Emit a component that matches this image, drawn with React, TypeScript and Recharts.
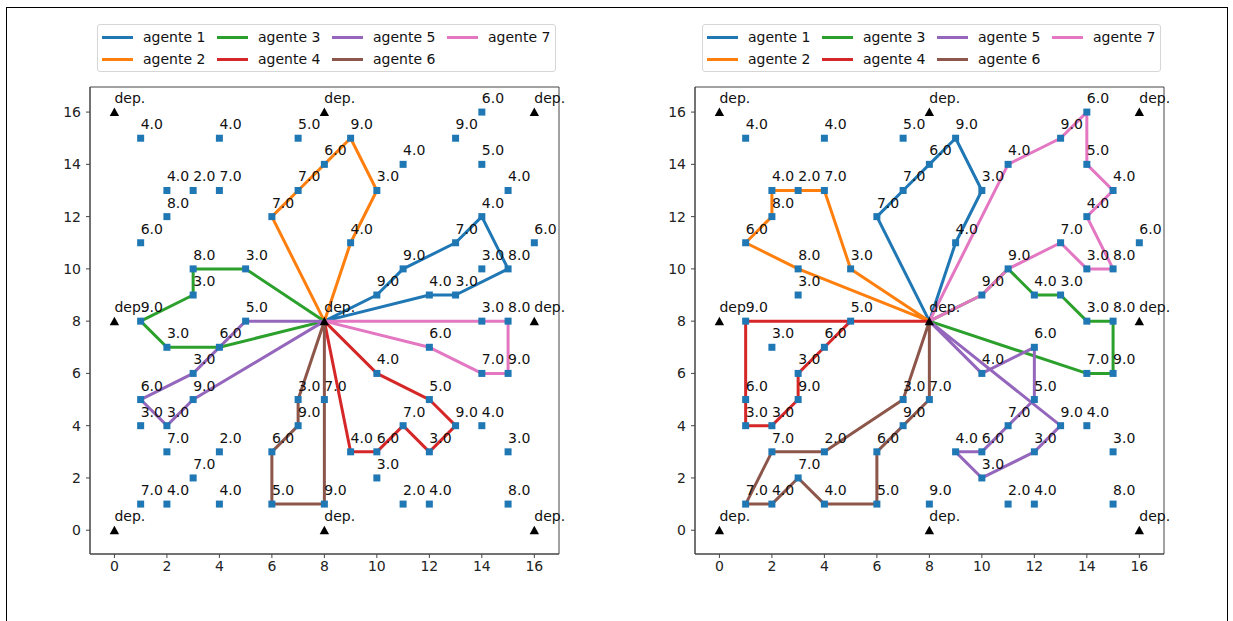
import React from "react";
import { ScatterChart, Scatter, XAxis, YAxis, ReferenceArea } from "recharts";

// customer nodes (x, y) and their demand
const custX = [1, 4, 7, 2, 3, 4, 2, 1, 3, 5, 3, 1, 5, 6, 7, 8, 9, 10, 11, 13, 14, 14, 15, 14, 9, 13, 16, 11, 14, 15, 10, 12, 13, 14, 15, 2, 4, 3, 1, 3, 1, 2, 2, 4, 3, 1, 2, 4, 6, 6, 7, 8, 7, 8, 12, 14, 15, 10, 12, 11, 13, 14, 9, 10, 12, 15, 10, 11, 12, 15];
const custY = [15, 15, 15, 13, 13, 13, 12, 11, 10, 10, 9, 8, 8, 12, 13, 14, 15, 13, 14, 15, 16, 14, 13, 12, 11, 11, 11, 10, 10, 10, 9, 9, 9, 8, 8, 7, 7, 6, 5, 5, 4, 4, 3, 3, 2, 1, 1, 1, 3, 1, 5, 5, 4, 1, 7, 6, 6, 6, 5, 4, 4, 4, 3, 3, 3, 3, 2, 1, 1, 1];
const demand = [4, 4, 5, 4, 2, 7, 8, 6, 8, 3, 3, 9, 5, 7, 7, 6, 9, 3, 4, 9, 6, 5, 4, 4, 4, 7, 6, 9, 3, 8, 9, 4, 3, 3, 8, 3, 6, 3, 6, 9, 3, 3, 7, 2, 7, 7, 4, 4, 6, 5, 3, 7, 9, 9, 6, 7, 9, 4, 5, 7, 9, 4, 4, 6, 3, 3, 3, 2, 4, 8];

const depotX = [0, 0, 0, 8, 8, 8, 16, 16, 16];
const depotY = [0, 8, 16, 0, 8, 16, 0, 8, 16];

const agentNames = ["agente 1", "agente 2", "agente 3", "agente 4", "agente 5", "agente 6", "agente 7"];
const agentColors = ["#1f77b4", "#ff7f0e", "#2ca02c", "#d62728", "#9467bd", "#8c564b", "#e377c2"];

const axisTicks = [0, 2, 4, 6, 8, 10, 12, 14, 16];

// routes of the left solution
const routesLeft = [
  [[8, 8], [10, 9], [11, 10], [13, 11], [14, 12], [15, 10], [13, 9], [12, 9], [8, 8]],
  [[8, 8], [6, 12], [7, 13], [8, 14], [9, 15], [10, 13], [9, 11], [8, 8]],
  [[8, 8], [5, 10], [3, 10], [3, 9], [1, 8], [2, 7], [4, 7], [8, 8]],
  [[8, 8], [10, 6], [12, 5], [13, 4], [12, 3], [11, 4], [10, 3], [9, 3], [8, 8]],
  [[8, 8], [5, 8], [3, 6], [1, 5], [2, 4], [3, 5], [8, 8]],
  [[8, 8], [7, 5], [7, 4], [6, 3], [6, 1], [8, 1], [8, 8]],
  [[8, 8], [14, 8], [15, 8], [15, 6], [14, 6], [12, 7], [8, 8]],
];

// routes of the right solution
const routesRight = [
  [[8, 8], [6, 12], [7, 13], [8, 14], [9, 15], [10, 13], [9, 11], [8, 8]],
  [[8, 8], [5, 10], [4, 13], [3, 13], [2, 13], [2, 12], [1, 11], [3, 10], [8, 8]],
  [[8, 8], [10, 9], [11, 10], [12, 9], [13, 9], [14, 8], [15, 8], [15, 6], [14, 6], [8, 8]],
  [[8, 8], [1, 8], [1, 5], [1, 4], [2, 4], [3, 5], [3, 6], [4, 7], [5, 8], [8, 8]],
  [[8, 8], [10, 6], [12, 7], [12, 5], [11, 4], [10, 3], [9, 3], [10, 2], [12, 3], [13, 4], [8, 8]],
  [[8, 8], [7, 5], [4, 3], [2, 3], [1, 1], [2, 1], [3, 2], [4, 1], [6, 1], [6, 3], [7, 4], [8, 5], [8, 8]],
  [[8, 8], [10, 9], [11, 10], [13, 11], [14, 10], [15, 10], [14, 12], [15, 13], [14, 14], [14, 16], [13, 15], [11, 14], [8, 8]],
];

const X_DOMAIN: [number, number] = [-0.93, 16.94];
const Y_DOMAIN: [number, number] = [-0.91, 16.96];
const FONT = "DejaVu Sans";

const customers = custX.map((x, i) => ({ x, y: custY[i], label: demand[i].toFixed(1) }));
const depots = depotX.map((x, i) => ({ x, y: depotY[i], label: "dep." }));

const NoDot = () => <g />;
const Square = (p: any) => (
  <rect x={p.cx - 3.5} y={p.cy - 3.5} width={7} height={7} fill="#1f77b4" />
);
const Triangle = (p: any) => (
  <path d={`M${p.cx},${p.cy - 4.5}L${p.cx + 4.7},${p.cy + 4}L${p.cx - 4.7},${p.cy + 4}Z`} fill="#000" />
);
const TextMark = (p: any) => (
  <text x={p.cx} y={p.cy - 9} fontSize={14} fontFamily={FONT} fill="#111">
    {p.payload.label}
  </text>
);

const LegendBox = () => {
  // matplotlib fills legend columns top to bottom (ncol = 4)
  return (
    <div
      style={{
        position: "absolute",
        left: 97,
        top: 24,
        width: 457,
        height: 46,
        border: "1px solid #d6d6d6",
        borderRadius: 3,
        background: "#fff",
        fontFamily: FONT,
        fontSize: 14,
        color: "#111",
      }}
    >
      {agentNames.map((name, i) => {
        const col = Math.floor(i / 2);
        const row = i % 2;
        return (
          <div
            key={name}
            style={{ position: "absolute", left: 4 + col * 115, top: row * 22 + 2, height: 20, display: "flex", alignItems: "center" }}
          >
            <span style={{ display: "inline-block", width: 31, height: 3, background: agentColors[i] }} />
            <span style={{ marginLeft: 10, whiteSpace: "nowrap" }}>{name}</span>
          </div>
        );
      })}
    </div>
  );
};

const Panel = ({ routes, left }: { routes: number[][][]; left: number }) => {
  return (
    <div style={{ position: "absolute", left, top: 0, width: 600, height: 621 }}>
      <ScatterChart width={600} height={621} margin={{ top: 87, right: 41, bottom: 37, left: 50 }} style={{ overflow: "visible" }}>
        <XAxis
          type="number"
          dataKey="x"
          domain={X_DOMAIN}
          ticks={axisTicks}
          height={30}
          tickSize={4}
          tickMargin={3}
          axisLine={{ stroke: "#444" }}
          tickLine={{ stroke: "#444" }}
          tick={{ fontSize: 14, fill: "#222", fontFamily: FONT }}
        />
        <YAxis
          type="number"
          dataKey="y"
          domain={Y_DOMAIN}
          ticks={axisTicks}
          width={40}
          tickSize={4}
          tickMargin={5}
          axisLine={{ stroke: "#444" }}
          tickLine={{ stroke: "#444" }}
          tick={{ fontSize: 14, fill: "#222", fontFamily: FONT }}
        />
        <ReferenceArea
          x1={X_DOMAIN[0]}
          x2={X_DOMAIN[1]}
          y1={Y_DOMAIN[0]}
          y2={Y_DOMAIN[1]}
          fill="none"
          stroke="#444"
          fillOpacity={0}
          ifOverflow="visible"
        />
        {routes.map((r, i) => (
          <Scatter
            key={agentNames[i]}
            name={agentNames[i]}
            data={r.map(([x, y]) => ({ x, y }))}
            fill={agentColors[i]}
            line={{ stroke: agentColors[i], strokeWidth: 3, strokeLinejoin: "round" }}
            lineType="joint"
            shape={NoDot}
            isAnimationActive={false}
          />
        ))}
        <Scatter data={customers} shape={Square} isAnimationActive={false} />
        <Scatter data={depots} shape={Triangle} isAnimationActive={false} />
        <Scatter data={customers} shape={TextMark} isAnimationActive={false} />
        <Scatter data={depots} shape={TextMark} isAnimationActive={false} />
      </ScatterChart>
      <LegendBox />
    </div>
  );
};

export default function App() {
  return (
    <div
      style={{
        position: "absolute",
        left: 0,
        top: 0,
        width: 1233,
        height: 621,
        overflow: "hidden",
        background: "#fff",
      }}
    >
      <div
        style={{
          position: "absolute",
          left: 6,
          top: 7,
          width: 1220,
          height: 700,
          borderLeft: "1px solid #000",
          borderTop: "1px solid #000",
          borderRight: "1px solid #000",
        }}
      />
      <Panel routes={routesLeft} left={0} />
      <Panel routes={routesRight} left={605} />
    </div>
  );
}
